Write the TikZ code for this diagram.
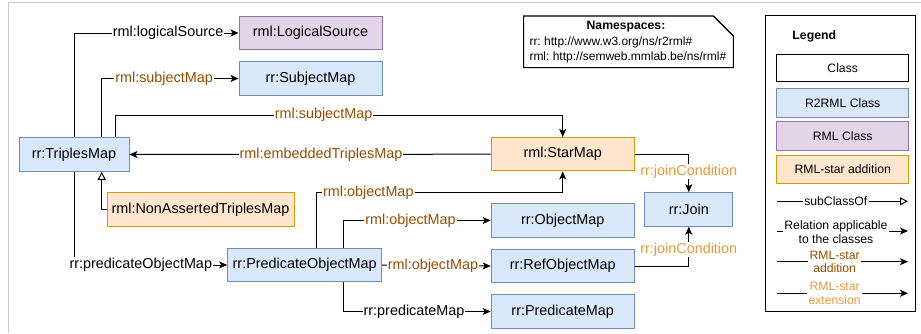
\documentclass[tikz,border=0pt]{standalone}
\usepackage{fontspec}
\setmainfont{Liberation Sans}
\usetikzlibrary{arrows.meta, positioning}
\frenchspacing

\definecolor{r2fill}{HTML}{DAE8FC}
\definecolor{r2line}{HTML}{6C8EBF}
\definecolor{rmlfill}{HTML}{E1D5E7}
\definecolor{rmlline}{HTML}{9673A6}
\definecolor{starfill}{HTML}{FFE6CC}
\definecolor{starline}{HTML}{D79B00}
\definecolor{addcol}{HTML}{994C00}
\definecolor{extcol}{HTML}{E99A3B}

\begin{document}
\begin{tikzpicture}[
    x=1pt, y=1pt,
    node distance=11pt,
    cls/.style={
        draw,
        line width=1pt,
        minimum width=143pt,
        minimum height=33.5pt,
        inner sep=0pt,
        font=\fontsize{14.4}{16}\selectfont
    },
    r2rml/.style={cls, fill=r2fill, draw=r2line},
    rmlcls/.style={cls, fill=rmlfill, draw=rmlline},
    starcls/.style={cls, fill=starfill, draw=starline},
    legcls/.style={cls, minimum width=132pt, minimum height=28.5pt, font=\fontsize{12.2}{14}\selectfont},
    rel/.style={-{Stealth[length=8pt, width=7pt, inset=2pt]}, line width=1pt},
    sub/.style={-{Triangle[open, length=8pt, width=8pt]}, line width=1pt},
    lbl/.style={fill=white, inner sep=1pt, font=\fontsize{14.4}{16}\selectfont},
    addlbl/.style={lbl, text=addcol},
    extlbl/.style={lbl, text=extcol},
    leglbl/.style={fill=white, inner sep=1.5pt, align=center, font=\fontsize{12.2}{13.5}\selectfont}
]
\useasboundingbox (0,0) rectangle (921,333);
\draw[black!20, line width=1pt] (8,0) |- (921,330);

% classes
\node[rmlcls] (ls) at (310.5,300) {rml:LogicalSource};
\node[r2rml, below=of ls] (sm) {rr:SubjectMap};
\node[r2rml, minimum width=110pt] (tm) at (74,178.5) {rr:TriplesMap};
\node[starcls, minimum width=187pt] (nat) at (200.5,123.7) {rml:NonAssertedTriplesMap};
\node[r2rml, minimum width=154pt] (pom) at (304.7,68) {rr:PredicateObjectMap};
\node[starcls] (star) at (562.7,178.8) {rml:StarMap};
\node[r2rml] (om) at (562.7,112.5) {rr:ObjectMap};
\node[r2rml, below=of om] (rom) {rr:RefObjectMap};
\node[r2rml, below=of rom] (pm) {rr:PredicateMap};
\node[r2rml, minimum width=88pt] (join) at (688.8,123.5) {rr:Join};

% relations
\draw[rel] (tm.north) |- node[lbl, pos=0.786] {rml:logicalSource} (ls.west);
\draw[rel] ([xshift=27.7pt]tm.north) |- node[addlbl, pos=0.728] {rml:subjectMap} (sm.west);
\draw[rel] ([xshift=41pt]tm.north) -- ++(0,22) -| node[addlbl, pos=0.233] {rml:subjectMap} (star.north);
\draw[rel] (star.west) -- node[addlbl, pos=0.47] {rml:embeddedTriplesMap} (tm.east);
\draw[sub] (nat.west) -| ([xshift=27.7pt]tm.south);
\draw[rel] (tm.south) |- node[lbl, pos=0.718] {rr:predicateObjectMap} (pom.west);
\draw[rel] ([xshift=11.3pt]pom.north) -- ++(0,55) -| node[addlbl, pos=0.106] {rml:objectMap} (star.south);
\draw[rel] ([xshift=38.6pt]pom.north) |- node[addlbl, pos=0.728] {rml:objectMap} (om.west);
\draw[rel] (pom.east) -- node[addlbl, pos=0.468] {rml:objectMap} (rom.west);
\draw[rel] ([xshift=38.6pt]pom.south) |- node[lbl, pos=0.74] {rr:predicateMap} (pm.west);
\draw[rel] (star.east) -| node[extlbl, pos=0.729] {rr:joinCondition} (join.north);
\draw[rel] (rom.east) -| node[extlbl, pos=0.707] {rr:joinCondition} (join.south);

% namespaces note
\draw[line width=1pt, fill=white] (523.7,317) -- (713.3,317) -- (733.3,297)
    -- (733.3,265.3) -- (523.7,265.3) -- cycle;
\draw[line width=1pt] (713.3,317) -- (733.3,297);
\node[font=\bfseries\fontsize{12.2}{14}\selectfont] (nstitle) at (626,306) {Namespaces:};
\node[anchor=west, inner sep=0pt, align=left, font=\fontsize{12}{15}\selectfont] (nstext) at (529.3,283.5)
    {rr: http://www.w3.org/ns/r2rml\#\\rml: http://semweb.mmlab.be/ns/rml\#};

% legend
\node[draw, line width=1pt, minimum width=150pt, minimum height=296pt, inner sep=0pt] (legend) at (840.7,169.3) {};
\node[font=\bfseries\fontsize{12.3}{14}\selectfont] (legtitle) at (814.3,297) {Legend};
\node[legcls, minimum height=27.4pt] (lclass) at (842.7,265) {Class};
\node[legcls, fill=r2fill, draw=r2line] (lr2rml) at (842.7,230.2) {R2RML Class};
\node[legcls, fill=rmlfill, draw=rmlline] (lrml) at (842.7,196.8) {RML Class};
\node[legcls, fill=starfill, draw=starline] (lstar) at (842.7,163.6) {RML-star addition};

\coordinate (ls1) at (777,131.7);  \coordinate (le1) at (908,131.7);
\coordinate (ls2) at (777,102);    \coordinate (le2) at (908,102);
\coordinate (ls3) at (777,71.3);   \coordinate (le3) at (908,71.3);
\coordinate (ls4) at (777,39.7);   \coordinate (le4) at (908,39.7);
\draw[sub] (ls1) -- node[leglbl, pos=0.449] {subClassOf} (le1);
\draw[rel] (ls2) -- node[leglbl, pos=0.45, yshift=-1.3pt] {Relation applicable\\to the classes} (le2);
\draw[rel] (ls3) -- node[leglbl, pos=0.44, text=addcol] {RML-star\\addition} (le3);
\draw[rel] (ls4) -- node[leglbl, pos=0.44, text=extcol] {RML-star\\extension} (le4);
\end{tikzpicture}
\end{document}
